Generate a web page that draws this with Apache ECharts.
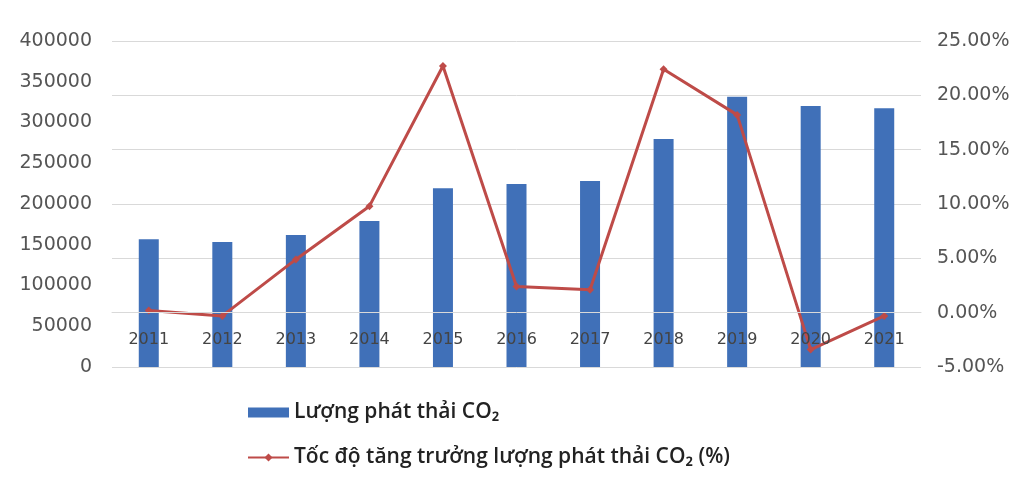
<!DOCTYPE html>
<html>
<head>
<meta charset="utf-8">
<style>
  html, body { margin: 0; padding: 0; background: #fff; }
  #chart { width: 1024px; height: 487px; }
</style>
<script src="https://cdn.jsdelivr.net/npm/echarts@6/dist/echarts.min.js"></script>
</head>
<body>
<div id="chart"></div>
<script>
  // years on the category axis
  const years = ['2011', '2012', '2013', '2014', '2015', '2016', '2017', '2018', '2019', '2020', '2021'];
  // CO2 emissions (left axis)
  const emissions = [156700, 153400, 162000, 179100, 219300, 224500, 228200, 279800, 331700, 320200, 317400];
  // growth rate in % (right axis)
  const growth = [0.2, -0.3, 4.9, 9.8, 22.7, 2.4, 2.1, 22.4, 18.2, -3.4, -0.3];

  const barName = 'Lượng phát thải CO₂';
  const lineName = 'Tốc độ tăng trưởng lượng phát thải CO₂ (%)';

  const tickFont = { color: '#555', fontFamily: 'DejaVu Sans', fontSize: 19 };

  const myChart = echarts.init(document.getElementById('chart'));
  myChart.setOption({
    animation: false,
    backgroundColor: '#fff',
    grid: {
      left: 112,
      right: 103,
      top: 41,
      bottom: 120,
      containLabel: false,
      outerBoundsMode: 'none',
    },
    legend: {
      orient: 'vertical',
      left: 242,
      top: 397,
      itemGap: 24,
      itemWidth: 41,
      itemHeight: 10,
      data: [
        { name: barName, icon: 'rect' },
        { name: lineName },
      ],
      textStyle: {
        color: '#222',
        fontFamily: 'Open Sans',
        fontSize: 21,
        fontWeight: 600,
      },
    },
    xAxis: {
      type: 'category',
      data: years,
      z: 10,
      axisLine: {
        onZero: true,
        onZeroAxisIndex: 1,
        lineStyle: { color: '#d9d9d9' },
      },
      axisTick: { show: false },
      // labels sit just under the 0% line, like the original
      axisLabel: { ...tickFont, fontSize: 16, color: '#444', margin: -35 },
    },
    yAxis: [
      {
        type: 'value',
        min: 0,
        max: 400000,
        interval: 50000,
        axisLine: { show: false },
        axisTick: { show: false },
        splitLine: { show: false },
        axisLabel: {
          ...tickFont,
          margin: 20,
          formatter: function (v) {
            return String(v);
          },
        },
      },
      {
        type: 'value',
        min: -5,
        max: 25,
        interval: 5,
        position: 'right',
        axisLine: { show: false },
        axisTick: { show: false },
        splitLine: { show: true, lineStyle: { color: '#d9d9d9', width: 1 } },
        axisLabel: {
          ...tickFont,
          margin: 16,
          formatter: function (v) {
            return v.toFixed(2) + '%';
          },
        },
      },
    ],
    series: [
      {
        name: barName,
        type: 'bar',
        yAxisIndex: 0,
        barWidth: 20,
        data: emissions,
        itemStyle: { color: '#4070b8' },
      },
      {
        name: lineName,
        type: 'line',
        yAxisIndex: 1,
        data: growth,
        symbol: 'diamond',
        symbolSize: 8,
        lineStyle: { color: '#be4b48', width: 3 },
        itemStyle: { color: '#be4b48' },
        z: 5,
      },
    ],
  });
</script>
</body>
</html>
